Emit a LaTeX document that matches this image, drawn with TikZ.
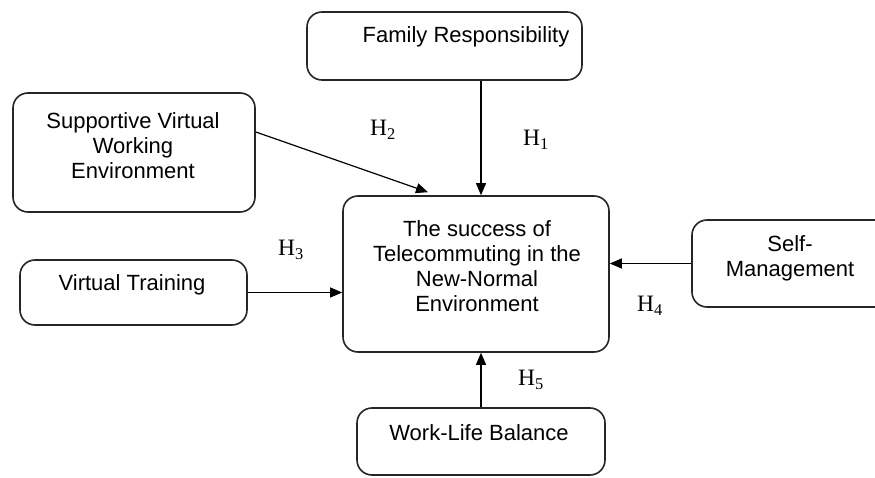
\documentclass[tikz,border=0pt]{standalone}
\usepackage{fontspec}
\setmainfont{Liberation Sans}
\newfontfamily\hypfont{Liberation Serif}
\usetikzlibrary{arrows.meta}

\tikzset{
  box/.style={draw=black!85, line width=1.6pt, rounded corners=15pt, inner sep=0pt},
  boxtext/.style={align=center, inner sep=0pt, font=\fontsize{22}{25}\selectfont},
  hyp/.style={inner sep=0pt, font=\hypfont\fontsize{23.5}{24}\selectfont},
  arr/.style={-{Triangle[length=12pt,width=10pt]}, line width=1.2pt}
}

\begin{document}
\begin{tikzpicture}[x=1pt,y=-1pt]
        \useasboundingbox (0,0) rectangle (875,478);

        \node[box, minimum width=275pt, minimum height=68pt] (FR) at (444.5,46) {};
        \node[box, minimum width=242pt, minimum height=119pt] (SVWE) at (134,152.5) {};
        \node[box, minimum width=266pt, minimum height=156pt] (TC) at (476,274) {};
        \node[box, minimum width=227pt, minimum height=65pt] (VT) at (133.5,292.5) {};
        \node[box, minimum width=200pt, minimum height=87pt] (SM) at (792,263.5) {};
        \node[box, minimum width=248pt, minimum height=67pt] (WLB) at (481,441.5) {};

        \node[boxtext] (FRt) at (466,37) {Family Responsibility};
        \node[boxtext] (SVWEt) at (133,146) {Supportive Virtual\\Working\\Environment};
        \node[boxtext] (TCt) at (477,266) {The success of\\Telecommuting in the\\New-Normal\\Environment};
        \node[boxtext] (VTt) at (132,285) {Virtual Training};
        \node[boxtext] (SMt) at (790,258) {Self-\\Management};
        \node[boxtext] (WLBt) at (479,433) {Work-Life Balance};

        \node[hyp] (H1) at (536,140) {H\textsubscript{1}};
        \node[hyp] (H2) at (383,130) {H\textsubscript{2}};
        \node[hyp] (H3) at (291,250) {H\textsubscript{3}};
        \node[hyp] (H4) at (650,306) {H\textsubscript{4}};
        \node[hyp] (H5) at (531,380) {H\textsubscript{5}};

        \draw[arr] (FR.south -| WLB.north) -- (TC.north -| WLB.north);
        \draw[arr] ([yshift=20.5pt]SVWE.east) -- ([xshift=-48pt,yshift=3pt]TC.north);
        \draw[arr] (VT.east) -- (TC.west |- VT.east);
        \draw[arr] (SM.west) -- (TC.east |- SM.west);
        \draw[arr] (WLB.north) -- (TC.south -| WLB.north);
      \end{tikzpicture}
\end{document}
